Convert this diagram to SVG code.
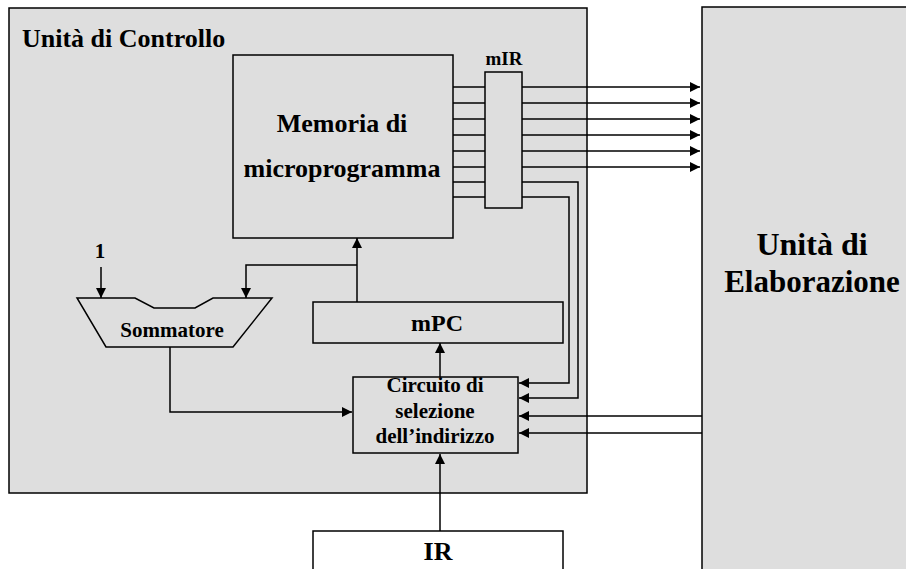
<svg xmlns="http://www.w3.org/2000/svg" width="906" height="569" viewBox="0 0 906 569">
<defs>
<marker id="ah" markerUnits="userSpaceOnUse" markerWidth="11" markerHeight="10" refX="10" refY="5" orient="auto">
<path d="M0,0 L10,5 L0,10 z" fill="#000"/>
</marker>
<style>
.box{fill:#dedede;stroke:#000;stroke-width:1.5}
.wbox{fill:#fff;stroke:#000;stroke-width:1.5}
.ln{fill:none;stroke:#000;stroke-width:1.5}
.arr{fill:none;stroke:#000;stroke-width:1.5;marker-end:url(#ah)}
text{font-family:"Liberation Serif","Times New Roman",serif;font-weight:bold;fill:#000}
.c{text-anchor:middle}
</style>
</defs>
<g id="elaborazione">
<rect class="box" x="702" y="7" width="220" height="580"/>
<text class="c" x="812" y="255" font-size="32">Unità di</text>
<text class="c" x="812" y="292" font-size="31">Elaborazione</text>
</g>
<g id="controllo">
<rect class="box" x="9" y="8" width="578" height="485"/>
<text x="22" y="47" font-size="26">Unità di Controllo</text>
</g>
<g id="ir">
<rect class="wbox" x="313" y="531" width="250" height="50"/>
<text class="c" x="438" y="560" font-size="26">IR</text>
</g>
<g id="connectors">
<path class="arr" d="M453,87 H700"/>
<path class="arr" d="M453,103 H700"/>
<path class="arr" d="M453,119 H700"/>
<path class="arr" d="M453,135 H700"/>
<path class="arr" d="M453,151 H700"/>
<path class="arr" d="M453,167 H700"/>
<path class="arr" d="M453,182 H578 V398 H519"/>
<path class="arr" d="M453,197 H569 V383 H519"/>
<path class="arr" d="M702,416 H519"/>
<path class="arr" d="M702,433 H519"/>
<path class="arr" d="M357,302 V238"/>
<path class="arr" d="M357,265 H246 V298"/>
<path class="arr" d="M101,267 V298"/>
<path class="arr" d="M170,347 V412 H352"/>
<path class="arr" d="M440,377 V343"/>
<path class="arr" d="M440,531 V454"/>
</g>
<g id="memoria">
<rect class="box" x="233" y="55" width="220" height="183"/>
<text class="c" x="342" y="132" font-size="26">Memoria di</text>
<text class="c" x="342" y="177" font-size="26">microprogramma</text>
</g>
<g id="mir">
<rect class="box" x="485" y="72" width="37" height="136"/>
<text class="c" x="504" y="65" font-size="19">mIR</text>
</g>
<g id="mpc">
<rect class="box" x="313" y="302" width="250" height="41"/>
<text class="c" x="437" y="331" font-size="24">mPC</text>
</g>
<g id="sommatore">
<path class="box" d="M77,298 H135 L154,308 H195 L213,298 H272 L233,347 H106 Z"/>
<text class="c" x="172" y="337" font-size="21">Sommatore</text>
<text class="c" x="100" y="258" font-size="21">1</text>
</g>
<g id="circuito">
<rect class="box" x="353" y="377" width="165" height="76"/>
<text class="c" x="435" y="392" font-size="21">Circuito di</text>
<text class="c" x="435" y="418" font-size="21">selezione</text>
<text class="c" x="435" y="443" font-size="21">dell’indirizzo</text>
</g>
</svg>
